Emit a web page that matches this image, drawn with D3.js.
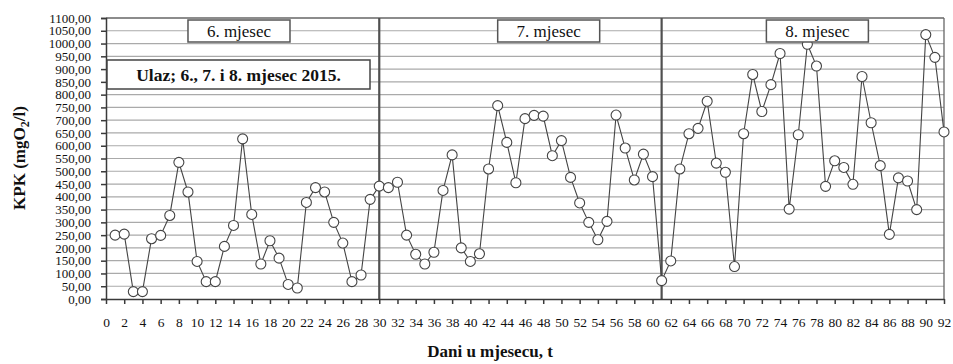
<!DOCTYPE html>
<html>
<head>
<meta charset="utf-8">
<script src="https://cdn.jsdelivr.net/npm/d3@7"></script>
<style>
  html, body { margin: 0; padding: 0; background: #fff; }
  svg { display: block; font-family: "Liberation Serif", "Times New Roman", serif; }
</style>
</head>
<body>
<svg id="chart" width="953" height="364"></svg>
<script>
// ---- Data ----
const kpkValues = [
  250, 254, 29, 29, 236, 249, 327, 535, 419, 147,
  68, 68, 206, 288, 627, 331, 137, 228, 160, 57,
  43, 378, 436, 419, 300, 219, 68, 94, 390, 442,
  436, 457, 250, 175, 137, 183, 425, 564, 200, 147,
  177, 509, 757, 613, 455, 706, 719, 716, 561, 620,
  476, 376, 300, 232, 304, 720, 591, 466, 567, 479,
  72,
  149, 509, 647, 668, 774, 532, 496, 127, 647, 879,
  734, 839, 961, 352, 643, 997, 912, 441, 541, 515,
  449, 871, 690, 522, 253, 474, 462, 350, 1035, 946,
  654
];
const days = kpkValues.map((v, i) => i + 1);
const monthBoundaries = [30, 61];
const monthLabels = ["6. mjesec", "7. mjesec", "8. mjesec"];
const chartTitle = "Ulaz; 6., 7. i 8. mjesec 2015.";
const yTicks = d3.range(0, 1101, 50);
const xTicks = d3.range(0, 93, 2);

// ---- Layout ----
const svg = d3.select("#chart");
const L = 106, R = 944, T = 18, B = 299;
const x = d3.scaleLinear().domain([0, 92]).range([L, R]);
const y = d3.scaleLinear().domain([0, 1100]).range([B, T]);
const dark = "#3a3a3a";

// gridlines
svg.append("g").selectAll("line").data(yTicks.filter(v => v > 0 && v < 1100)).join("line")
  .attr("x1", L).attr("x2", R)
  .attr("y1", d => y(d)).attr("y2", d => y(d))
  .attr("stroke", "#aaaaaa").attr("stroke-width", 1.2);

// border top/right
svg.append("line").attr("x1", L).attr("x2", R).attr("y1", T).attr("y2", T)
  .attr("stroke", "#666").attr("stroke-width", 1.3);
svg.append("line").attr("x1", R).attr("x2", R).attr("y1", T).attr("y2", B)
  .attr("stroke", "#666").attr("stroke-width", 1.3);

// month separators
svg.append("g").selectAll("line").data(monthBoundaries).join("line")
  .attr("x1", d => x(d)).attr("x2", d => x(d))
  .attr("y1", T).attr("y2", B)
  .attr("stroke", "#505050").attr("stroke-width", 2.2);

// axes
const yAxis = svg.append("g").attr("transform", `translate(${L},0)`)
  .call(d3.axisLeft(y).tickValues(yTicks).tickSize(5).tickPadding(10)
    .tickFormat(d => d.toFixed(2).replace(".", ",")));
yAxis.selectAll("text").attr("font-size", 13).attr("fill", "#111")
  .attr("font-family", "Liberation Serif");
yAxis.selectAll("line, path").attr("stroke", dark).attr("stroke-width", 1.5);

const xAxis = svg.append("g").attr("transform", `translate(0,${B})`)
  .call(d3.axisBottom(x).tickValues(xTicks).tickSize(5).tickPadding(13).tickSizeOuter(0));
xAxis.selectAll("text").attr("font-size", 13.5).attr("fill", "#111")
  .attr("font-family", "Liberation Serif");
xAxis.selectAll("line, path").attr("stroke", dark).attr("stroke-width", 1.5);

// line
const line = d3.line().x((d, i) => x(days[i])).y(d => y(d));
svg.append("path").datum(kpkValues).attr("d", line)
  .attr("fill", "none").attr("stroke", "#444").attr("stroke-width", 1.1);

// markers
svg.append("g").selectAll("circle").data(kpkValues).join("circle")
  .attr("cx", (d, i) => x(days[i])).attr("cy", d => y(d)).attr("r", 5)
  .attr("fill", "#fff").attr("stroke", "#444").attr("stroke-width", 1.1);

// month label boxes
const monthCenters = [14.6, 48.6, 78.1];
monthLabels.forEach((lab, i) => {
  const cx = x(monthCenters[i]);
  svg.append("rect").attr("x", cx - 51).attr("y", 20).attr("width", 102).attr("height", 22)
    .attr("fill", "#fff").attr("stroke", "#555").attr("stroke-width", 1.5);
  svg.append("text").attr("x", cx).attr("y", 37).attr("text-anchor", "middle")
    .attr("font-size", 17).attr("fill", "#111").text(lab);
});

// chart title box
svg.append("rect").attr("x", 107).attr("y", 60).attr("width", 263).attr("height", 29)
  .attr("fill", "#fff").attr("stroke", "#444").attr("stroke-width", 1.5);
svg.append("text").attr("x", 238.5).attr("y", 81).attr("text-anchor", "middle")
  .attr("font-size", 17.5).attr("font-weight", "bold").attr("fill", "#111").text(chartTitle);

// axis titles
svg.append("text").attr("x", 490).attr("y", 357).attr("text-anchor", "middle")
  .attr("font-size", 17).attr("font-weight", "bold").attr("fill", "#111")
  .text("Dani u mjesecu, t");

const yt = svg.append("text").attr("transform", "translate(25,158) rotate(-90)")
  .attr("text-anchor", "middle").attr("font-size", 17).attr("font-weight", "bold").attr("fill", "#111");
yt.append("tspan").text("KPK (mgO");
yt.append("tspan").attr("font-size", 12).attr("dy", 4).text("2");
yt.append("tspan").attr("dy", -4).text("/l)");
</script>
</body>
</html>
